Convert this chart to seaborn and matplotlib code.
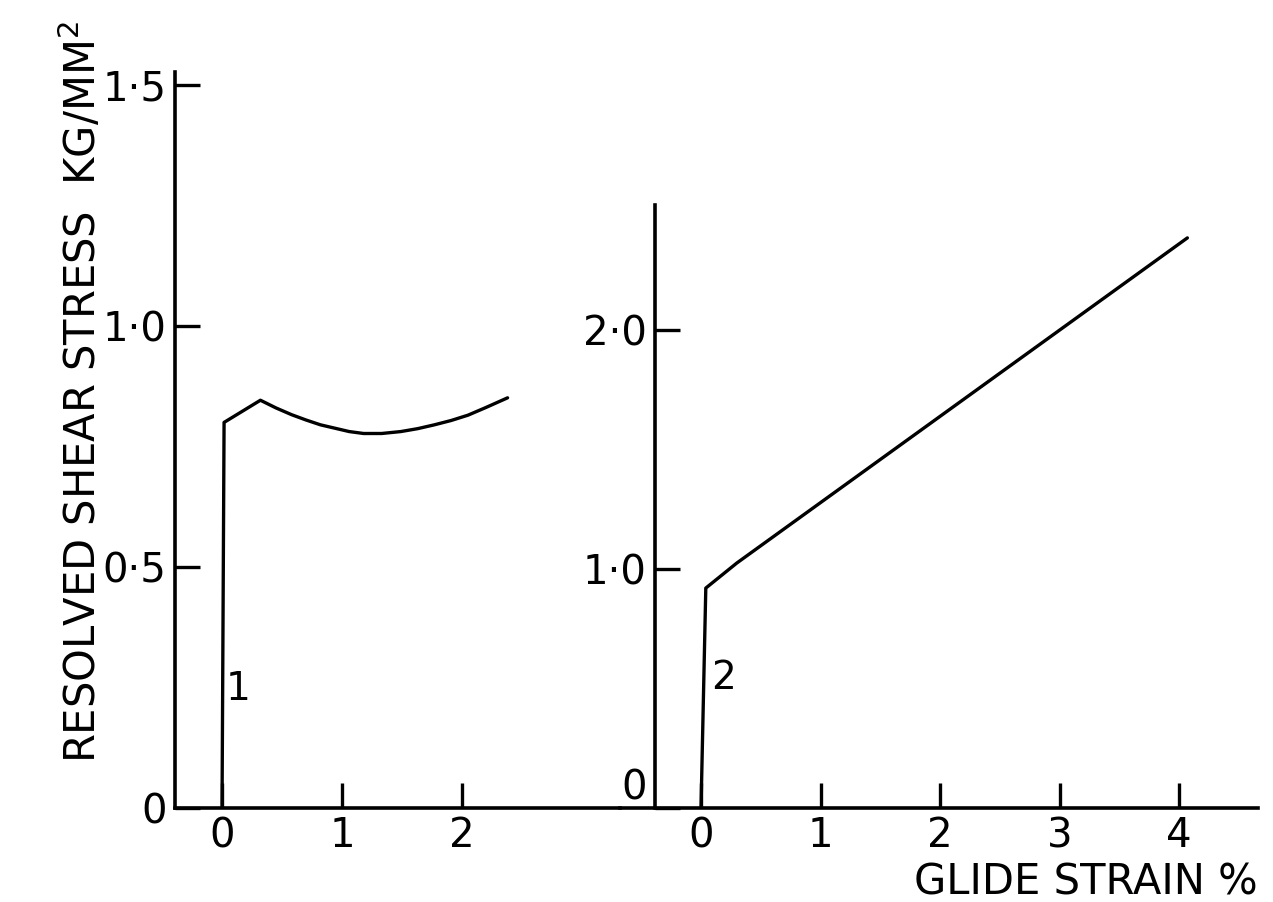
import matplotlib
matplotlib.use("Agg")
import matplotlib.pyplot as plt
import seaborn as sns

# ---- data ----
# Specimen 1 (left panel)
strain_1 = [0.0, 0.017, 0.32, 0.45, 0.58, 0.70, 0.82, 0.94, 1.06, 1.18,
            1.33, 1.49, 1.63, 1.77, 1.91, 2.05, 2.20, 2.38]
stress_1 = [0.0, 0.800, 0.846, 0.830, 0.816, 0.805, 0.795, 0.788, 0.781, 0.777,
            0.777, 0.781, 0.787, 0.795, 0.804, 0.815, 0.831, 0.851]
# Specimen 2 (right panel)
strain_2 = [0.0, 0.04, 0.30, 4.07]
stress_2 = [0.0, 0.92, 1.025, 2.385]

left_yticks = [0.0, 0.5, 1.0, 1.5]
left_yticklabels = ["0", "0·5", "1·0", "1·5"]
left_xticks = [0, 1, 2]
left_xticklabels = ["0", "1", "2"]

right_yticks = [0.0, 1.0, 2.0]
right_yticklabels = ["0", "1·0", "2·0"]
right_xticks = [0, 1, 2, 3, 4]
right_xticklabels = ["0", "1", "2", "3", "4"]

curve_labels = ["1", "2"]

# ---- styling ----
sns.set_style("ticks")
plt.rcParams["font.family"] = ["DejaVu Sans"]
plt.rcParams["mathtext.fontset"] = "dejavusans"
plt.rcParams["text.color"] = "black"
plt.rcParams["axes.labelcolor"] = "black"
plt.rcParams["xtick.color"] = "black"
plt.rcParams["ytick.color"] = "black"

W, H = 1273, 902
fig = plt.figure(figsize=(W / 100, H / 100), dpi=100)
fig.patch.set_facecolor("white")

ax1 = fig.add_axes([175 / W, 94 / H, 445 / W, 736 / H])
ax2 = fig.add_axes([620 / W, 94 / H, 638 / W, 736 / H])

lw = 2.4
for ax in (ax1, ax2):
    ax.set_facecolor("none")
    for s in ("top", "right"):
        ax.spines[s].set_visible(False)
    for s in ("left", "bottom"):
        ax.spines[s].set_linewidth(2.6)
        ax.spines[s].set_color("black")
    ax.tick_params(axis="both", direction="in", length=18, width=2.4,
                   colors="black", labelcolor="black", labelsize=29)
    ax.tick_params(axis="y", pad=6)
    ax.tick_params(axis="x", pad=6)

# left panel
sns.lineplot(x=strain_1, y=stress_1, ax=ax1, sort=False, estimator=None,
             color="black", linewidth=lw)
ax1.set_xlim(-0.392, 3.317)
ax1.set_ylim(0, 1.527)
ax1.set_xticks(left_xticks)
ax1.set_xticklabels(left_xticklabels)
ax1.set_yticks(left_yticks)
ax1.set_yticklabels(left_yticklabels)
ax1.text(0.13, 0.247, curve_labels[0], fontsize=28, ha="center", va="center",
         color="black")
ax1.set_ylabel("RESOLVED SHEAR STRESS  KG/MM$^2$", fontsize=30, color="black")
ax1.yaxis.set_label_coords(-0.158, 0.565)

# right panel
sns.lineplot(x=strain_2, y=stress_2, ax=ax2, sort=False, estimator=None,
             color="black", linewidth=lw)
ax2.set_xlim(-0.678, 4.661)
ax2.set_ylim(0, 3.079)
ax2.spines["left"].set_position(("data", -0.385))
ax2.spines["left"].set_bounds(0, 2.523)
ax2.set_xticks(right_xticks)
ax2.set_xticklabels(right_xticklabels)
ax2.set_yticks(right_yticks)
ax2.set_yticklabels(right_yticklabels)
ax2.get_yticklabels()[0].set_va("bottom")
ax2.text(0.19, 0.544, curve_labels[1], fontsize=28, ha="center", va="center",
         color="black")
ax2.set_xlabel("GLIDE STRAIN %", fontsize=30, loc="right", labelpad=4,
               color="black")

fig.savefig("out.png", dpi=100, facecolor="white")
